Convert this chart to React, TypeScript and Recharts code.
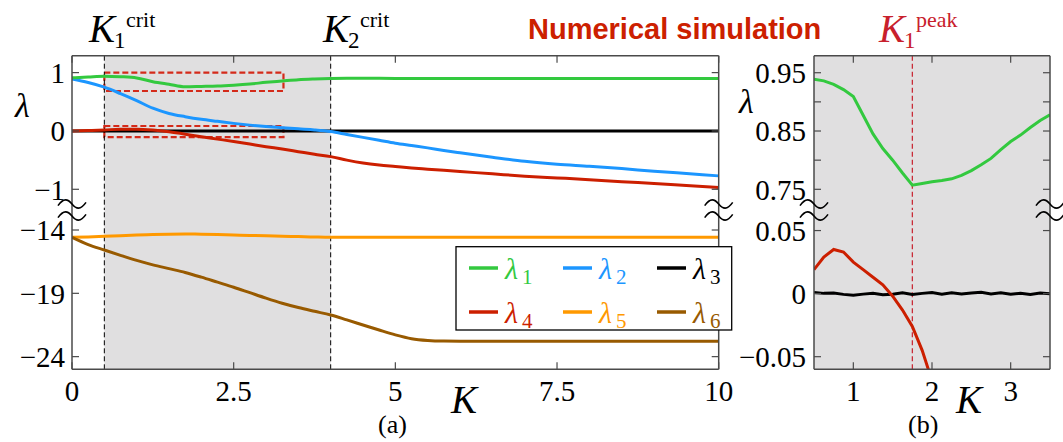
import React from 'react';
import { LineChart, Line, XAxis, YAxis, ReferenceArea, ReferenceLine } from 'recharts';

// ---------- Panel (a) data ----------
const kA = [0, 0.25, 0.5, 0.75, 1, 1.25, 1.5, 1.75, 2, 2.25, 2.5, 2.75, 3, 3.25, 3.5, 3.75, 4, 4.25, 4.5, 4.75, 5, 5.25, 5.5, 5.75, 6, 6.5, 7, 7.5, 8, 8.5, 9, 9.5, 10];
const lambda1A = [0.91, 0.925, 0.939, 0.93, 0.909, 0.845, 0.8, 0.757, 0.763, 0.77, 0.785, 0.805, 0.833, 0.856, 0.878, 0.89, 0.898, 0.902, 0.903, 0.902, 0.901, 0.9, 0.9, 0.9, 0.9, 0.9, 0.9, 0.9, 0.9, 0.899, 0.899, 0.899, 0.899];
const lambda2A = [0.89, 0.83, 0.75, 0.64, 0.52, 0.39, 0.3, 0.245, 0.2, 0.165, 0.13, 0.1, 0.075, 0.055, 0.036, 0.018, -0.01, -0.06, -0.11, -0.16, -0.21, -0.25, -0.29, -0.335, -0.375, -0.45, -0.52, -0.57, -0.605, -0.645, -0.69, -0.73, -0.77];
const lambda3A = [0, 0, 0, 0, 0, 0, 0, 0, 0, 0, 0, 0, 0, 0, 0, 0, 0, 0, 0, 0, 0, 0, 0, 0, 0, 0, 0, 0, 0, 0, 0, 0, 0];
const lambda4A = [0, 0.008, 0.017, 0.03, 0.03, 0.015, -0.015, -0.055, -0.1, -0.14, -0.18, -0.225, -0.27, -0.31, -0.355, -0.4, -0.44, -0.5, -0.55, -0.585, -0.61, -0.635, -0.655, -0.675, -0.695, -0.735, -0.775, -0.805, -0.835, -0.87, -0.9, -0.935, -0.97];
const lambda5A = [-14.58, -14.55, -14.5, -14.45, -14.4, -14.36, -14.33, -14.32, -14.33, -14.36, -14.4, -14.43, -14.46, -14.5, -14.52, -14.55, -14.57, -14.57, -14.58, -14.58, -14.58, -14.58, -14.58, -14.58, -14.58, -14.58, -14.58, -14.58, -14.58, -14.58, -14.58, -14.58, -14.58];
const lambda6A = [-14.58, -15.15, -15.58, -16.0, -16.4, -16.75, -17.05, -17.35, -17.72, -18.12, -18.52, -18.95, -19.38, -19.78, -20.12, -20.42, -20.71, -21.1, -21.5, -21.9, -22.28, -22.58, -22.72, -22.77, -22.78, -22.78, -22.79, -22.78, -22.78, -22.79, -22.78, -22.78, -22.78];

// ---------- Panel (b) data ----------
const kB = [0.5, 0.625, 0.75, 0.875, 1, 1.125, 1.25, 1.375, 1.5, 1.625, 1.75, 1.875, 2, 2.125, 2.25, 2.375, 2.5, 2.625, 2.75, 2.875, 3, 3.125, 3.25, 3.375, 3.5];
const lambda1B = [0.939, 0.936, 0.93, 0.921, 0.909, 0.877, 0.845, 0.82, 0.8, 0.778, 0.757, 0.76, 0.763, 0.765, 0.768, 0.774, 0.782, 0.792, 0.803, 0.818, 0.832, 0.843, 0.856, 0.868, 0.878];
const lambda3B = [0.0008, 0.0002, 0.0004, -0.0006, -0.0012, -0.0004, 0.0003, -0.0008, -0.0005, 0.0006, -0.0007, 0.0002, 0.0009, -0.0004, 0.0006, -0.0003, 0.0005, 0.001, -0.0002, 0.0006, -0.0005, 0.0003, -0.0006, 0.0004, -0.0001];
const lambda4B = [0.019, 0.029, 0.035, 0.033, 0.025, 0.019, 0.013, 0.007, -0.002, -0.013, -0.026, -0.045, -0.069, null, null, null, null, null, null, null, null, null, null, null, null];

// ---------- axes / labels ----------
const xTicksA = [0, 2.5, 5, 7.5, 10];
const yTicksAUpper = [1, 0, -1];
const yTicksALower = [-14, -19, -24];
const xTicksB = [1, 2, 3];
const yTicksBUpper = [0.95, 0.9, 0.85, 0.8, 0.75];
const yLabelsBUpper = [0.95, 0.85, 0.75];
const yTicksBLower = [0.05, 0, -0.05];
const K1crit = 0.5;
const K2crit = 4.0;
const K1peak = 1.75;

const series = [
  { key: 'l1', name: '1', color: '#33c93f' },
  { key: 'l2', name: '2', color: '#1c96ff' },
  { key: 'l3', name: '3', color: '#000000' },
  { key: 'l4', name: '4', color: '#cc1f00' },
  { key: 'l5', name: '5', color: '#ff9900' },
  { key: 'l6', name: '6', color: '#985a00' },
];

const rowsA = kA.map((k, i) => ({ k, l1: lambda1A[i], l2: lambda2A[i], l3: lambda3A[i], l4: lambda4A[i], l5: lambda5A[i], l6: lambda6A[i] }));
const rowsB = kB.map((k, i) => ({ k, l1: lambda1B[i], l3: lambda3B[i], l4: lambda4B[i] }));

const FONT = "'Liberation Serif', 'Times New Roman', serif";
const AX = '#4a4a4a';
const axisLine = { stroke: AX, strokeWidth: 1.5 };
const tickLine = { stroke: AX, strokeWidth: 1.2 };
const GRAY = '#e0dfe0';
const PEAKRED = '#c8202c';
const TICKFS = 29;
const tickTextStyle = { fontFamily: FONT, fontSize: TICKFS, fill: '#000' };

const blank = () => '';
const fmtA = (v: number) => (v < 0 ? '\u2212' + Math.abs(v) : String(v));
const fmtBU = (v: number) => (yLabelsBUpper.includes(v) ? v.toFixed(2) : '');
const fmtBL = (v: number) => (v === 0 ? '0' : (v < 0 ? '\u2212' : '') + Math.abs(v).toFixed(2));

const makeYTick = (fmt: (v: number) => string) => (props: any) => (
  <g>
    <text x={props.x} y={props.y} dy="0.36em" textAnchor="end" style={tickTextStyle}>
      {fmt(props.payload.value)}
    </text>
  </g>
);
const makeXTick = (fmt: (v: number) => string) => (props: any) => (
  <g>
    <text x={props.x} y={props.y} dy="0.66em" textAnchor="middle" style={tickTextStyle}>
      {fmt(props.payload.value)}
    </text>
  </g>
);

const colorOf = (k: string) => series.find((s) => s.key === k)!.color;

function lines(keys: string[], xId: string, type: any) {
  return keys.map((k) => (
    <Line key={k} xAxisId={xId} yAxisId="l" dataKey={k} type={type} stroke={colorOf(k)} strokeWidth={3} dot={false} isAnimationActive={false} connectNulls={false} />
  ));
}

function Wave({ cx, cy }: { cx: number; cy: number }) {
  const w = 14, a = 4;
  const d = `M ${cx - w} ${cy + a * 0.4} C ${cx - w * 0.6} ${cy - a * 1.6}, ${cx - w * 0.3} ${cy - a * 1.3}, ${cx} ${cy} C ${cx + w * 0.3} ${cy + a * 1.3}, ${cx + w * 0.6} ${cy + a * 1.6}, ${cx + w} ${cy - a * 0.4}`;
  return <path d={d} fill="none" stroke="#000" strokeWidth={1.6} />;
}

function KLabel({ x, sub, sup, color }: { x: number; sub: string; sup: string; color: string }) {
  return (
    <g fill={color}>
      <text x={x} y={42} style={{ fontFamily: FONT, fontSize: 39, fontStyle: 'italic' }}>K</text>
      <text x={x + 25} y={48} style={{ fontFamily: FONT, fontSize: 23 }}>{sub}</text>
      <text x={x + 37} y={27} style={{ fontFamily: FONT, fontSize: 22 }}>{sup}</text>
    </g>
  );
}

export default function App() {
  const legendCols = [469, 563, 657];
  const legendRows = [268, 312];
  const serifStyle = (size: number, italic = false) => ({ fontFamily: FONT, fontSize: size, fontStyle: italic ? 'italic' : 'normal' });
  return (
    <div style={{ position: 'absolute', left: 0, top: 0, width: 1063, height: 442, background: '#fff', overflow: 'hidden' }}>
      {/* Panel (a) upper */}
      <div style={{ position: 'absolute', left: 0, top: 0 }}>
        <LineChart width={760} height={210} data={rowsA} margin={{ top: 45.7, right: 31.3, bottom: 0, left: 0 }}>
          <XAxis xAxisId="t" dataKey="k" type="number" orientation="top" domain={[0, 10]} ticks={xTicksA} interval={0} height={10} axisLine={axisLine} tickLine={tickLine} tickSize={-7} tickFormatter={blank} allowDataOverflow />
          <YAxis yAxisId="l" type="number" domain={[-1.355, 1.29]} ticks={yTicksAUpper} interval={0} width={72} axisLine={axisLine} tickLine={tickLine} tickSize={-7} tickMargin={14} tick={makeYTick(fmtA)} allowDataOverflow />
          <YAxis yAxisId="r" orientation="right" type="number" domain={[-1.355, 1.29]} ticks={yTicksAUpper} interval={0} width={10} axisLine={axisLine} tickLine={tickLine} tickSize={-7} tickFormatter={blank} allowDataOverflow />
          <ReferenceArea xAxisId="t" yAxisId="l" x1={K1crit} x2={K2crit} fill={GRAY} fillOpacity={1} stroke="none" />
          <ReferenceLine xAxisId="t" yAxisId="l" x={K1crit} stroke="#000" strokeWidth={1} strokeDasharray="5 3" />
          <ReferenceLine xAxisId="t" yAxisId="l" x={K2crit} stroke="#000" strokeWidth={1} strokeDasharray="5 3" />
          {lines(['l3', 'l4', 'l2', 'l1'], 't', 'monotone')}
          <ReferenceArea xAxisId="t" yAxisId="l" x1={K1crit} x2={3.27} y1={0.685} y2={1.0} fill="none" fillOpacity={0} stroke="#d42a1a" strokeWidth={2.2} strokeDasharray="6 3" />
          <ReferenceArea xAxisId="t" yAxisId="l" x1={K1crit} x2={3.27} y1={-0.105} y2={0.085} fill="none" fillOpacity={0} stroke="#d42a1a" strokeWidth={2.2} strokeDasharray="6 3" />
        </LineChart>
      </div>
      {/* Panel (a) lower */}
      <div style={{ position: 'absolute', left: 0, top: 210 }}>
        <LineChart width={760} height={232} data={rowsA} margin={{ top: 0, right: 31.3, bottom: 0, left: 0 }}>
          <XAxis xAxisId="b" dataKey="k" type="number" orientation="bottom" domain={[0, 10]} ticks={xTicksA} interval={0} height={72.7} axisLine={axisLine} tickLine={tickLine} tickSize={-7} tickMargin={20} tick={makeXTick(String)} allowDataOverflow />
          <YAxis yAxisId="l" type="number" domain={[-25, -12.42]} ticks={yTicksALower} interval={0} width={72} axisLine={axisLine} tickLine={tickLine} tickSize={-7} tickMargin={14} tick={makeYTick(fmtA)} allowDataOverflow />
          <YAxis yAxisId="r" orientation="right" type="number" domain={[-25, -12.42]} ticks={yTicksALower} interval={0} width={10} axisLine={axisLine} tickLine={tickLine} tickSize={-7} tickFormatter={blank} allowDataOverflow />
          <ReferenceArea xAxisId="b" yAxisId="l" x1={K1crit} x2={K2crit} fill={GRAY} fillOpacity={1} stroke="none" />
          <ReferenceLine xAxisId="b" yAxisId="l" x={K1crit} stroke="#000" strokeWidth={1} strokeDasharray="5 3" />
          <ReferenceLine xAxisId="b" yAxisId="l" x={K2crit} stroke="#000" strokeWidth={1} strokeDasharray="5 3" />
          {lines(['l5', 'l6'], 'b', 'monotone')}
        </LineChart>
      </div>
      {/* Panel (b) upper */}
      <div style={{ position: 'absolute', left: 725, top: 0 }}>
        <LineChart width={338} height={210} data={rowsB} margin={{ top: 45.7, right: 3, bottom: 0, left: 0 }}>
          <XAxis xAxisId="t" dataKey="k" type="number" orientation="top" domain={[0.5, 3.5]} ticks={xTicksB} interval={0} height={10} axisLine={axisLine} tickLine={tickLine} tickSize={-7} tickFormatter={blank} allowDataOverflow />
          <YAxis yAxisId="l" type="number" domain={[0.7145, 0.9792]} ticks={yTicksBUpper} interval={0} width={89} axisLine={axisLine} tickLine={tickLine} tickSize={-7} tickMargin={15} tick={makeYTick(fmtBU)} allowDataOverflow />
          <YAxis yAxisId="r" orientation="right" type="number" domain={[0.7145, 0.9792]} ticks={yTicksBUpper} interval={0} width={10} axisLine={axisLine} tickLine={tickLine} tickSize={-7} tickFormatter={blank} allowDataOverflow />
          <ReferenceArea xAxisId="t" yAxisId="l" x1={0.5} x2={3.5} fill={GRAY} fillOpacity={1} stroke="none" />
          <ReferenceLine xAxisId="t" yAxisId="l" x={K1peak} stroke={PEAKRED} strokeWidth={1.2} strokeDasharray="5 3" />
          {lines(['l1'], 't', 'linear')}
        </LineChart>
      </div>
      {/* Panel (b) lower */}
      <div style={{ position: 'absolute', left: 725, top: 210 }}>
        <LineChart width={338} height={232} data={rowsB} margin={{ top: 0, right: 3, bottom: 0, left: 0 }}>
          <XAxis xAxisId="b" dataKey="k" type="number" orientation="bottom" domain={[0.5, 3.5]} ticks={xTicksB} interval={0} height={72.7} axisLine={axisLine} tickLine={tickLine} tickSize={-7} tickMargin={20} tick={makeXTick(String)} allowDataOverflow />
          <YAxis yAxisId="l" type="number" domain={[-0.06, 0.0663]} ticks={yTicksBLower} interval={0} width={89} axisLine={axisLine} tickLine={tickLine} tickSize={-7} tickMargin={15} tick={makeYTick(fmtBL)} allowDataOverflow />
          <YAxis yAxisId="r" orientation="right" type="number" domain={[-0.06, 0.0663]} ticks={yTicksBLower} interval={0} width={10} axisLine={axisLine} tickLine={tickLine} tickSize={-7} tickFormatter={blank} allowDataOverflow />
          <ReferenceArea xAxisId="b" yAxisId="l" x1={0.5} x2={3.5} fill={GRAY} fillOpacity={1} stroke="none" />
          <ReferenceLine xAxisId="b" yAxisId="l" x={K1peak} stroke={PEAKRED} strokeWidth={1.2} strokeDasharray="5 3" />
          {lines(['l3'], 'b', 'linear')}
          {lines(['l4'], 'b', 'linear')}
        </LineChart>
      </div>
      {/* Overlay: labels, legend, axis breaks */}
      <svg width={1063} height={442} style={{ position: 'absolute', left: 0, top: 0, pointerEvents: 'none' }}>
        <text x={528} y={39} style={{ fontFamily: "'Liberation Sans', Arial, sans-serif", fontWeight: 'bold', fontSize: 29 }} fill="#cc2000">Numerical simulation</text>
        <KLabel x={89} sub="1" sup="crit" color="#000" />
        <KLabel x={323} sub="2" sup="crit" color="#000" />
        <KLabel x={879} sub="1" sup="peak" color={PEAKRED} />
        <text x={15} y={117} style={serifStyle(34, true)}>λ</text>
        <text x={739} y={113} style={serifStyle(34, true)}>λ</text>
        <text x={451} y={413} style={serifStyle(39, true)}>K</text>
        <text x={956} y={413} style={serifStyle(39, true)}>K</text>
        <text x={378} y={433} style={serifStyle(26)}>(a)</text>
        <text x={908} y={433} style={serifStyle(26)}>(b)</text>
        {[72, 718.7, 814, 1050].map((cx) => (
          <g key={cx}>
            <Wave cx={cx} cy={204} />
            <Wave cx={cx} cy={216} />
          </g>
        ))}
        <rect x={456} y={246.7} width={275.7} height={83.3} fill="#fff" stroke="#000" strokeWidth={1.3} />
        {series.map((s, i) => {
          const x = legendCols[i % 3];
          const y = legendRows[Math.floor(i / 3)];
          return (
            <g key={s.key} fill={s.color}>
              <line x1={x} x2={x + 29} y1={y} y2={y} stroke={s.color} strokeWidth={3.5} />
              <text x={x + 36} y={y + 11} style={serifStyle(30, true)}>λ</text>
              <text x={x + 53} y={y + 16} style={serifStyle(21)}>{s.name}</text>
            </g>
          );
        })}
      </svg>
    </div>
  );
}
